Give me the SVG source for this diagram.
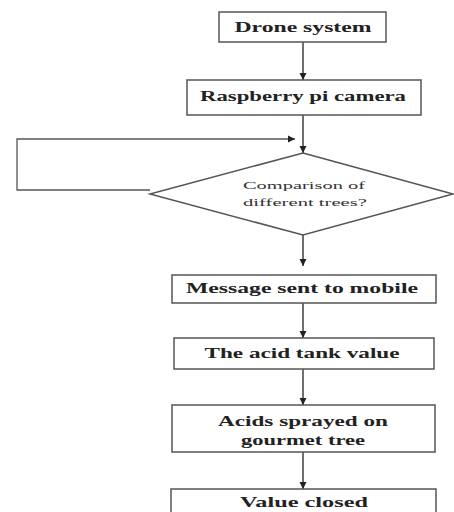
<svg xmlns="http://www.w3.org/2000/svg" width="454" height="512" viewBox="0 0 454 512">
<style>
.box{fill:#fff;stroke:#555;stroke-width:1.5}
.t{font-family:"Liberation Serif","Times New Roman",serif;font-weight:bold;font-size:14px;fill:#222;text-anchor:middle}
.s{font-family:"Liberation Serif","Times New Roman",serif;font-size:11px;fill:#333;text-anchor:middle}
.c{fill:none;stroke:#222;stroke-width:1.3}
.f{fill:none;stroke:#555;stroke-width:1.3}
</style>
<defs>
<marker id="ah" markerWidth="8" markerHeight="8" refX="7" refY="4" orient="auto" markerUnits="userSpaceOnUse">
<path d="M0,0.5 L7,4 L0,7.5 Z" fill="#222"/>
</marker>
</defs>
<rect width="454" height="512" fill="#fff"/>
<g id="connectors">
<line class="c" x1="303" y1="42" x2="303" y2="80" marker-end="url(#ah)"/>
<line class="c" x1="303" y1="115" x2="303" y2="153" marker-end="url(#ah)"/>
<polyline class="f" points="150,190 17,190 17,139 295,139" marker-end="url(#ah)"/>
<line class="c" x1="303" y1="235" x2="303" y2="266" marker-end="url(#ah)"/>
<line class="c" x1="303" y1="303" x2="303" y2="338" marker-end="url(#ah)"/>
<line class="c" x1="303" y1="369" x2="303" y2="405" marker-end="url(#ah)"/>
<line class="c" x1="303" y1="452" x2="303" y2="489" marker-end="url(#ah)"/>
</g>
<g id="n1"><rect class="box" x="219" y="12" width="167" height="30"/><text class="t" x="303" y="32" textLength="137" lengthAdjust="spacingAndGlyphs">Drone system</text></g>
<g id="n2"><rect class="box" x="187" y="80" width="234" height="35"/><text class="t" x="303" y="101" textLength="206" lengthAdjust="spacingAndGlyphs">Raspberry pi camera</text></g>
<g id="n3"><polygon class="box" points="303,153 453,194 303,235 150,194"/>
<text class="s" x="304" y="189" textLength="122" lengthAdjust="spacingAndGlyphs">Comparison of</text>
<text class="s" x="305" y="206" textLength="124" lengthAdjust="spacingAndGlyphs">different trees?</text></g>
<g id="n4"><rect class="box" x="172" y="275" width="264" height="28"/><text class="t" x="302" y="293" textLength="232" lengthAdjust="spacingAndGlyphs">Message sent to mobile</text></g>
<g id="n5"><rect class="box" x="174" y="338" width="260" height="31"/><text class="t" x="302" y="358" textLength="195" lengthAdjust="spacingAndGlyphs">The acid tank value</text></g>
<g id="n6"><rect class="box" x="172" y="405" width="263" height="47"/><text class="t" x="303" y="426" textLength="170" lengthAdjust="spacingAndGlyphs">Acids sprayed on</text><text class="t" x="303" y="445" textLength="124" lengthAdjust="spacingAndGlyphs">gourmet tree</text></g>
<g id="n7"><rect class="box" x="171" y="489" width="265" height="40"/><text class="t" x="304" y="507" textLength="128" lengthAdjust="spacingAndGlyphs">Value closed</text></g>
</svg>
